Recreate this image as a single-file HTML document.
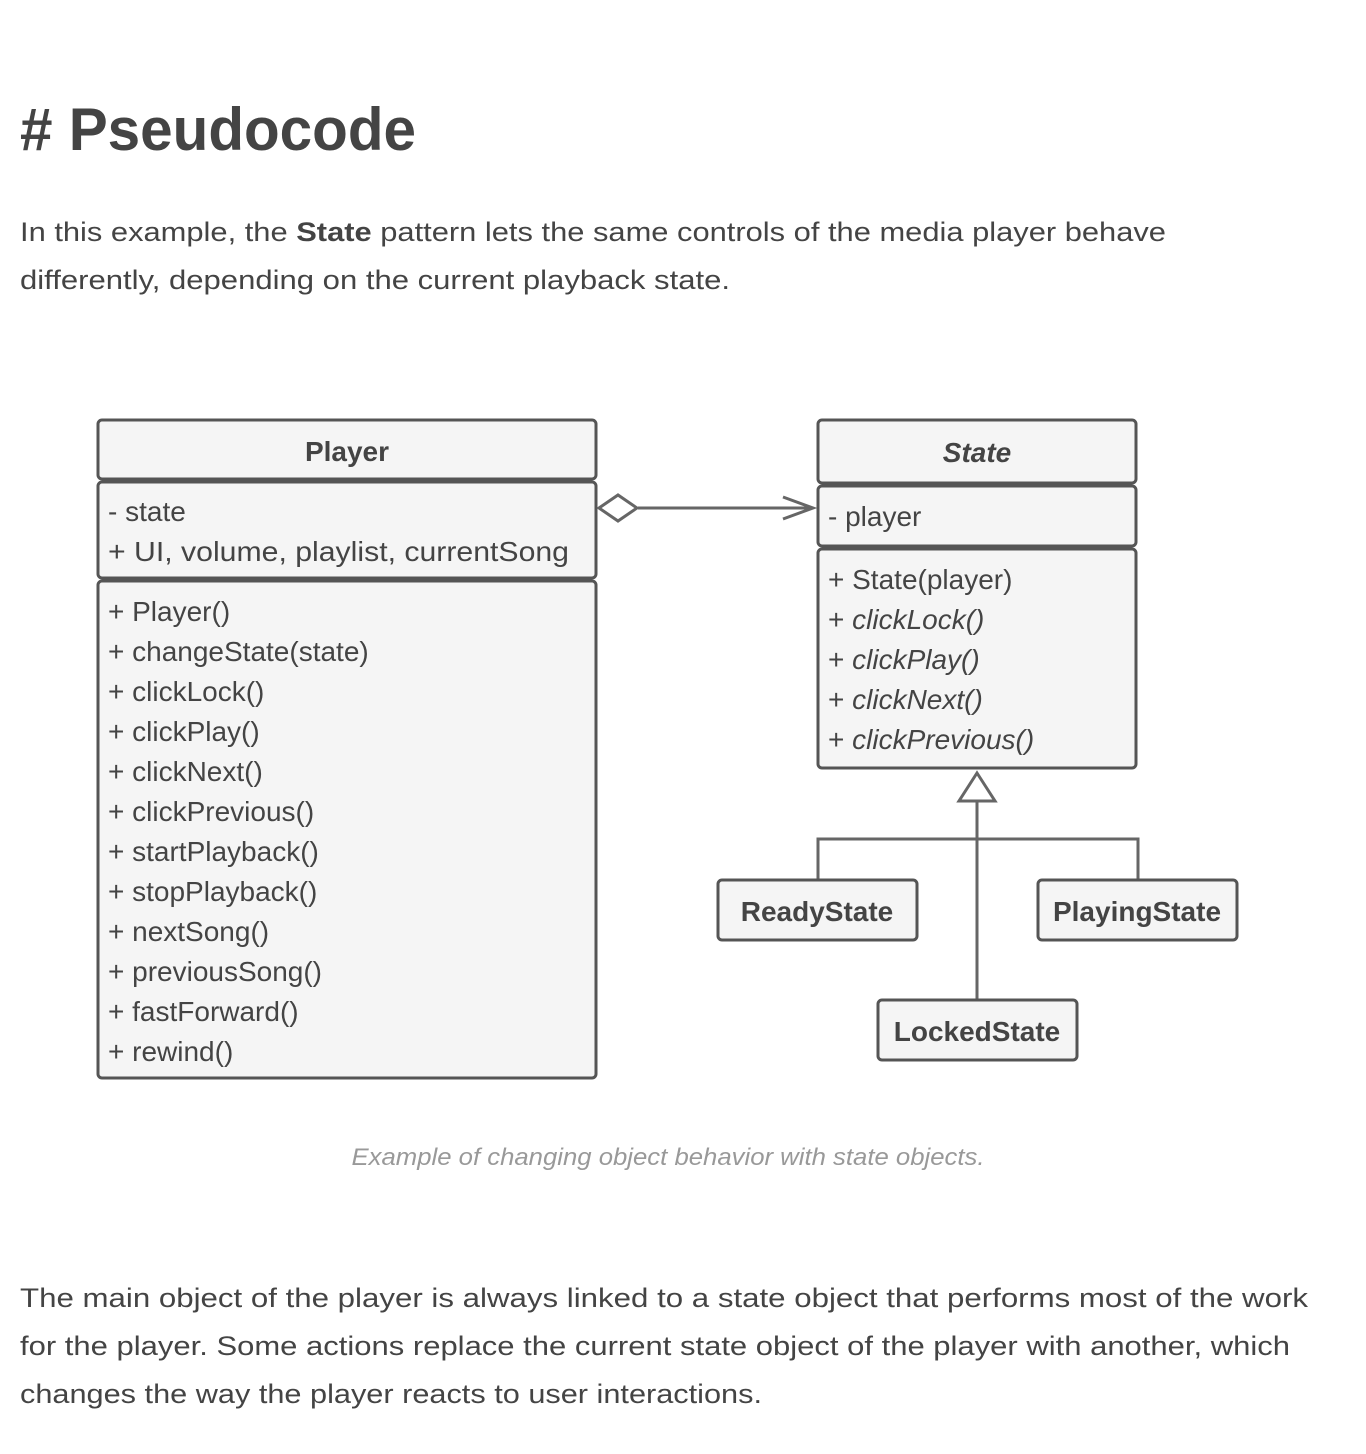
<!DOCTYPE html>
<html><head><meta charset="utf-8"><style>
html,body{margin:0;padding:0;background:#fff;}
svg{display:block;}
text{font-family:"Liberation Sans",sans-serif;fill:#444;}
.t{font-size:27px;}
.m{font-size:28px;}
.h{font-size:28px;font-weight:bold;}
.b{font-weight:bold;}
.box{fill:#f5f5f5;stroke:#555;stroke-width:3;}
.ln{stroke:#666;stroke-width:3;fill:none;}
</style></head><body>
<svg width="1366" height="1454" viewBox="0 0 1366 1454" xmlns="http://www.w3.org/2000/svg">
<text x="20" y="150" font-size="60" class="b" textLength="396" lengthAdjust="spacingAndGlyphs">#&#160;Pseudocode</text>
<text x="20" y="241" class="t" textLength="1146" lengthAdjust="spacingAndGlyphs">In this example, the <tspan class="b">State</tspan> pattern lets the same controls of the media player behave</text>
<text x="20" y="289" class="t" textLength="710" lengthAdjust="spacingAndGlyphs">differently, depending on the current playback state.</text>

<!-- Player -->
<rect class="box" x="98" y="420" width="498" height="59" rx="4"/>
<rect class="box" x="98" y="482" width="498" height="96" rx="4"/>
<rect class="box" x="98" y="581" width="498" height="497" rx="4"/>
<text x="347" y="461" text-anchor="middle" class="h">Player</text>
<g class="m">
<text x="108" y="521">- state</text>
<text x="108" y="561" textLength="461" lengthAdjust="spacingAndGlyphs">+ UI, volume, playlist, currentSong</text>
<text x="108" y="621">+ Player()</text>
<text x="108" y="661">+ changeState(state)</text>
<text x="108" y="701">+ clickLock()</text>
<text x="108" y="741">+ clickPlay()</text>
<text x="108" y="781">+ clickNext()</text>
<text x="108" y="821">+ clickPrevious()</text>
<text x="108" y="861">+ startPlayback()</text>
<text x="108" y="901">+ stopPlayback()</text>
<text x="108" y="941">+ nextSong()</text>
<text x="108" y="981">+ previousSong()</text>
<text x="108" y="1021">+ fastForward()</text>
<text x="108" y="1061">+ rewind()</text>
</g>

<!-- State -->
<rect class="box" x="818" y="420" width="318" height="63" rx="4"/>
<rect class="box" x="818" y="486" width="318" height="60" rx="4"/>
<rect class="box" x="818" y="549" width="318" height="219" rx="4"/>
<text x="977" y="462" text-anchor="middle" class="h" font-style="italic">State</text>
<g class="m">
<text x="828" y="526">- player</text>
<text x="828" y="589">+ State(player)</text>
<text x="828" y="629">+ <tspan font-style="italic">clickLock()</tspan></text>
<text x="828" y="669">+ <tspan font-style="italic">clickPlay()</tspan></text>
<text x="828" y="709">+ <tspan font-style="italic">clickNext()</tspan></text>
<text x="828" y="749">+ <tspan font-style="italic">clickPrevious()</tspan></text>
</g>

<!-- aggregation -->
<path class="ln" d="M638 508 L813 508"/>
<path d="M599 508 L618 495 L637 508 L618 521 Z" fill="#fff" stroke="#666" stroke-width="3"/>
<path class="ln" d="M783 497 L813 508 L783 519"/>

<!-- inheritance -->
<path class="ln" d="M977 802 L977 999"/>
<path class="ln" d="M818 880 L818 839 L1138 839 L1138 880"/>
<path d="M977 773 L995 801 L959 801 Z" fill="#fff" stroke="#666" stroke-width="3"/>

<rect class="box" x="718" y="880" width="199" height="60" rx="4"/>
<rect class="box" x="1038" y="880" width="199" height="60" rx="4"/>
<rect class="box" x="878" y="1000" width="199" height="60" rx="4"/>
<text x="817" y="921" text-anchor="middle" class="h">ReadyState</text>
<text x="1137" y="921" text-anchor="middle" class="h">PlayingState</text>
<text x="977" y="1041" text-anchor="middle" class="h">LockedState</text>

<text x="668" y="1165" text-anchor="middle" font-size="24" font-style="italic" style="fill:#999" textLength="633" lengthAdjust="spacingAndGlyphs">Example of changing object behavior with state objects.</text>

<text x="20" y="1307" class="t" textLength="1288" lengthAdjust="spacingAndGlyphs">The main object of the player is always linked to a state object that performs most of the work</text>
<text x="20" y="1355" class="t" textLength="1270" lengthAdjust="spacingAndGlyphs">for the player. Some actions replace the current state object of the player with another, which</text>
<text x="20" y="1403" class="t" textLength="742" lengthAdjust="spacingAndGlyphs">changes the way the player reacts to user interactions.</text>
</svg>
</body></html>
